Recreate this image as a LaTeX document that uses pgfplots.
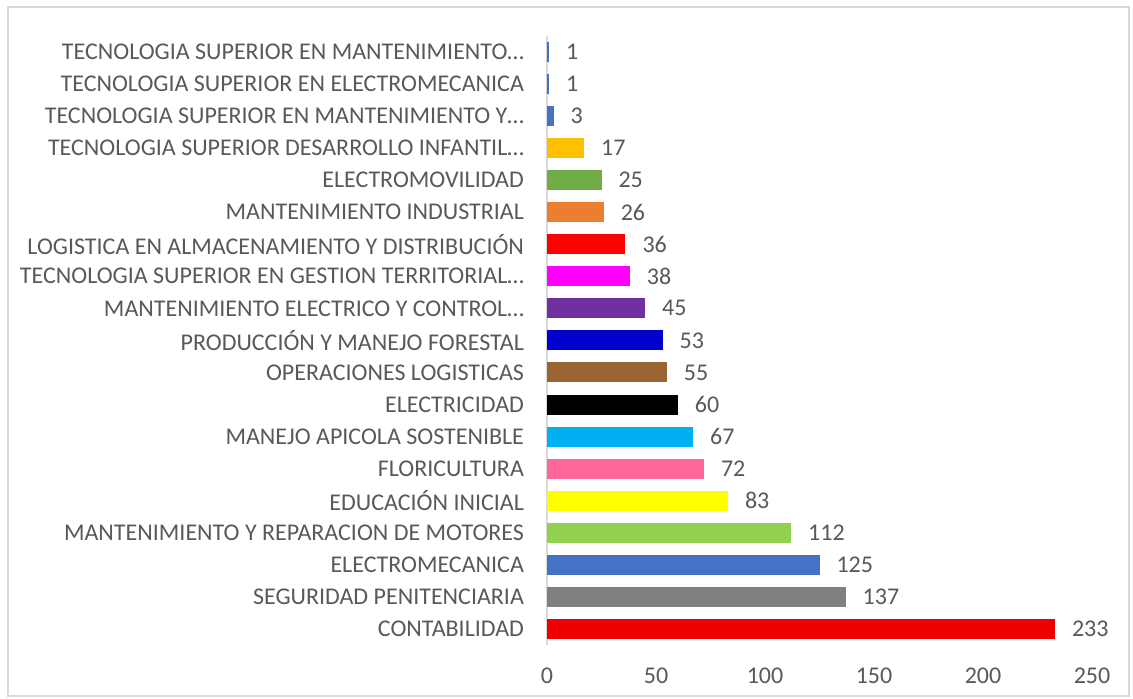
\documentclass[border=0pt]{standalone}
\usepackage{pgfplots}
\pgfplotsset{compat=1.18}
\usepackage{fontspec}
\setmainfont{Carlito}
\definecolor{txt}{HTML}{595959}
\definecolor{grid}{HTML}{D9D9D9}
\begin{document}
\begin{tikzpicture}
\path[use as bounding box, fill=white] (0,0) rectangle (566.5pt,349.5pt);
\draw[grid, line width=0.6pt] (4pt,1.5pt) rectangle (564.5pt,346pt);
\begin{axis}[
  at={(273.5pt,27pt)}, anchor=south west,
  scale only axis, width=272.5pt, height=304.6pt,
  xmin=0, xmax=250, ymin=-0.5, ymax=18.5,
  xbar, bar width=10pt, bar shift=0pt,
  axis lines=left,
  x axis line style={draw=none},
  y axis line style={-, draw=grid, line width=1pt},
  major tick length=0pt,
  xtick={0,50,100,150,200,250},
  ytick={0,...,18},
  yticklabels={CONTABILIDAD, SEGURIDAD PENITENCIARIA, ELECTROMECANICA, MANTENIMIENTO Y REPARACION DE MOTORES, EDUCACIÓN INICIAL, FLORICULTURA, MANEJO APICOLA SOSTENIBLE, ELECTRICIDAD, OPERACIONES LOGISTICAS, PRODUCCIÓN Y MANEJO FORESTAL, MANTENIMIENTO ELECTRICO Y CONTROL…, TECNOLOGIA SUPERIOR EN GESTION TERRITORIAL…, LOGISTICA EN ALMACENAMIENTO Y DISTRIBUCIÓN, MANTENIMIENTO INDUSTRIAL, ELECTROMOVILIDAD, TECNOLOGIA SUPERIOR DESARROLLO INFANTIL…, TECNOLOGIA SUPERIOR EN MANTENIMIENTO Y…, TECNOLOGIA SUPERIOR EN ELECTROMECANICA, TECNOLOGIA SUPERIOR EN MANTENIMIENTO…},
  ticklabel style={font=\fontsize{12pt}{14pt}\selectfont, text=txt},
  yticklabel style={xshift=-8pt},
  xticklabel style={yshift=-8pt},
  /pgf/number format/assume math mode=true,
  nodes near coords,
  every node near coord/.append style={font=\fontsize{12pt}{14pt}\selectfont, text=txt, xshift=5pt},
  clip=false,
]
\addplot[fill={rgb,255:red,238;green,0;blue,0}, draw=none] coordinates {(233,0)};
\addplot[fill={rgb,255:red,128;green,128;blue,128}, draw=none] coordinates {(137,1)};
\addplot[fill={rgb,255:red,68;green,114;blue,196}, draw=none] coordinates {(125,2)};
\addplot[fill={rgb,255:red,146;green,208;blue,80}, draw=none] coordinates {(112,3)};
\addplot[fill={rgb,255:red,255;green,255;blue,0}, draw=none] coordinates {(83,4)};
\addplot[fill={rgb,255:red,255;green,102;blue,153}, draw=none] coordinates {(72,5)};
\addplot[fill={rgb,255:red,0;green,176;blue,240}, draw=none] coordinates {(67,6)};
\addplot[fill=black, draw=none] coordinates {(60,7)};
\addplot[fill={rgb,255:red,153;green,102;blue,51}, draw=none] coordinates {(55,8)};
\addplot[fill={rgb,255:red,0;green,0;blue,204}, draw=none] coordinates {(53,9)};
\addplot[fill={rgb,255:red,112;green,48;blue,160}, draw=none] coordinates {(45,10)};
\addplot[fill={rgb,255:red,255;green,0;blue,255}, draw=none] coordinates {(38,11)};
\addplot[fill={rgb,255:red,255;green,0;blue,0}, draw=none] coordinates {(36,12)};
\addplot[fill={rgb,255:red,237;green,125;blue,49}, draw=none] coordinates {(26,13)};
\addplot[fill={rgb,255:red,112;green,173;blue,71}, draw=none] coordinates {(25,14)};
\addplot[fill={rgb,255:red,255;green,192;blue,0}, draw=none] coordinates {(17,15)};
\addplot[fill={rgb,255:red,68;green,114;blue,196}, draw=none] coordinates {(3,16)};
\addplot[fill={rgb,255:red,68;green,114;blue,196}, draw=none] coordinates {(1,17)};
\addplot[fill={rgb,255:red,68;green,114;blue,196}, draw=none] coordinates {(1,18)};
\end{axis}
\end{tikzpicture}
\end{document}
